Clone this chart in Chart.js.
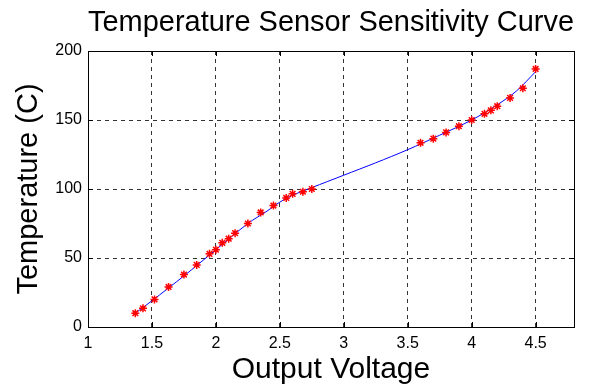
<!DOCTYPE html>
<html>
<head>
<meta charset="utf-8">
<script src="https://cdn.jsdelivr.net/npm/chart.js@4/dist/chart.umd.min.js"></script>
<style>
  html, body { margin: 0; padding: 0; background: #fff; }
  #wrap { width: 592px; height: 385px; }
</style>
</head>
<body>
<div id="wrap"><canvas id="myChart" width="592" height="385"></canvas></div>
<script>
// measured points (red markers)
const voltage = [1.37, 1.43, 1.52, 1.63, 1.75, 1.85, 1.95, 2.0, 2.05, 2.1, 2.15, 2.25, 2.35, 2.45,
  2.55, 2.6, 2.68, 2.75, 3.6, 3.7, 3.8, 3.9, 4.0, 4.1, 4.15, 4.2, 4.3, 4.4, 4.5];
const temperature = [10, 13.5, 20, 29, 38, 45, 53, 56, 61, 64, 68, 75, 83, 88,
  93.5, 96.5, 98, 100, 133.5, 136.5, 141, 145.5, 150, 154.5, 157, 160, 166, 173, 187];

// fitted curve (blue line)
const fitVoltage = [1.37, 1.5, 1.75, 2.0, 2.25, 2.4, 2.5, 2.6, 2.75, 3.0, 3.25, 3.5, 3.75, 4.0, 4.2, 4.35, 4.5];
const fitTemperature = [10, 19, 37, 56, 75, 84, 90.5, 95.5, 101, 110, 119, 128.5, 139, 150, 161, 171, 185];

const xTicks = [1, 1.5, 2, 2.5, 3, 3.5, 4, 4.5];
const yTicks = [0, 50, 100, 150, 200];

const fontName = "'Liberation Sans', Arial, sans-serif";

// frame + inward tick marks, like the original plot
const framePlugin = {
  id: 'frame',
  afterDatasetsDraw(chart) {
    const { ctx, chartArea: a, scales } = chart;
    ctx.save();
    ctx.strokeStyle = '#000';
    ctx.lineWidth = 1;
    ctx.setLineDash([]);
    ctx.strokeRect(Math.round(a.left) + 0.5, Math.round(a.top) + 0.5,
      Math.round(a.right - a.left), Math.round(a.bottom - a.top));
    ctx.beginPath();
    for (const v of xTicks) {
      const x = Math.round(scales.x.getPixelForValue(v)) + 0.5;
      ctx.moveTo(x, a.bottom); ctx.lineTo(x, a.bottom - 5);
      ctx.moveTo(x, a.top); ctx.lineTo(x, a.top + 5);
    }
    for (const v of yTicks) {
      const y = Math.round(scales.y.getPixelForValue(v)) + 0.5;
      ctx.moveTo(a.left, y); ctx.lineTo(a.left + 5, y);
      ctx.moveTo(a.right, y); ctx.lineTo(a.right - 5, y);
    }
    ctx.stroke();
    ctx.restore();
  }
};

const ctx = document.getElementById('myChart').getContext('2d');
const myChart = new Chart(ctx, {
  type: 'scatter',
  data: {
    datasets: [
      {
        label: 'fit',
        data: fitVoltage.map((v, i) => ({ x: v, y: fitTemperature[i] })),
        showLine: true,
        borderColor: 'rgb(0,0,255)',
        borderWidth: 1,
        pointRadius: 0,
        tension: 0.3,
        order: 2
      },
      {
        label: 'data',
        data: voltage.map((v, i) => ({ x: v, y: temperature[i] })),
        showLine: false,
        pointStyle: 'star',
        pointRadius: 4,
        borderWidth: 1.5,
        borderColor: 'rgb(255,0,0)',
        backgroundColor: 'rgb(255,0,0)',
        order: 1
      }
    ]
  },
  options: {
    responsive: false,
    animation: false,
    layout: { padding: { left: 0, right: 18, top: 0, bottom: 0 } },
    plugins: {
      legend: { display: false },
      tooltip: { enabled: false },
      title: {
        display: true,
        text: 'Temperature Sensor Sensitivity Curve',
        fullSize: false,
        color: '#000',
        font: { family: fontName, size: 30, weight: 'normal', lineHeight: 1.2 },
        padding: { top: 5, bottom: 10 }
      }
    },
    scales: {
      x: {
        type: 'linear',
        min: 1,
        max: 4.8,
        afterFit(scale) { scale.height = 58; },
        afterBuildTicks(scale) { scale.ticks = xTicks.map(v => ({ value: v })); },
        ticks: {
          color: '#000',
          padding: 7,
          font: { family: fontName, size: 16 },
          callback: v => String(v)
        },
        grid: { color: '#333', lineWidth: 1, drawTicks: false },
        border: { display: true, color: '#000', dash: [4, 4] },
        title: {
          display: true,
          text: 'Output Voltage',
          color: '#000',
          font: { family: fontName, size: 30, lineHeight: 1 },
          padding: 0
        }
      },
      y: {
        type: 'linear',
        min: 0,
        max: 200,
        afterFit(scale) { scale.width = 88; },
        afterBuildTicks(scale) { scale.ticks = yTicks.map(v => ({ value: v })); },
        ticks: {
          color: '#000',
          padding: 6,
          font: { family: fontName, size: 16 }
        },
        grid: { color: '#333', lineWidth: 1, drawTicks: false },
        border: { display: true, color: '#000', dash: [4, 4] },
        title: {
          display: true,
          text: 'Temperature (C)',
          color: '#000',
          font: { family: fontName, size: 29, lineHeight: 1 },
          padding: { top: 14, bottom: 0 }
        }
      }
    }
  },
  plugins: [framePlugin]
});
</script>
</body>
</html>
